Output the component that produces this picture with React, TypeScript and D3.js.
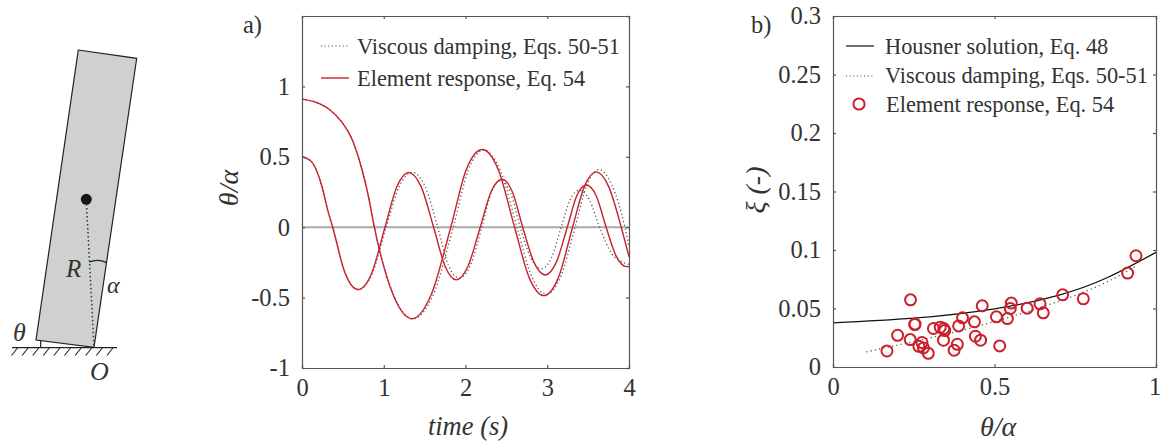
import React, { useEffect, useRef } from "react";
import * as d3 from "d3";

// panel a) readings: [time, theta/alpha], peaks, zero crossings and the points half way between
const upperElement = [[0,0.91],[0.155,0.89],[0.32,0.843],[0.485,0.748],[0.608,0.63],[0.73,0.417],[0.81,0.227],[0.885,0],[1.115,-0.48],[1.345,-0.65],[1.58,-0.48],[1.82,0],[2.01,0.41],[2.205,0.552],[2.4,0.41],[2.6,0],[2.78,-0.36],[2.96,-0.486],[3.135,-0.36],[3.31,0],[3.455,0.29],[3.6,0.393],[3.75,0.29],[3.905,0],[4,-0.21]];
const lowerElement = [[0,0.5],[0.118,0.464],[0.24,0.298],[0.32,0.109],[0.375,0],[0.53,-0.33],[0.685,-0.443],[0.85,-0.33],[1.015,0],[1.16,0.287],[1.305,0.389],[1.457,0.288],[1.61,0],[1.75,-0.277],[1.887,-0.374],[2.03,-0.277],[2.18,0],[2.313,0.252],[2.446,0.341],[2.573,0.252],[2.7,0],[2.838,-0.25],[2.976,-0.339],[3.11,-0.25],[3.245,0],[3.36,0.222],[3.48,0.3],[3.6,0.222],[3.72,0],[3.845,-0.207],[3.97,-0.28],[4,-0.28]];
const upperViscous = [[0,0.91],[0.155,0.89],[0.32,0.843],[0.485,0.748],[0.608,0.63],[0.73,0.417],[0.81,0.227],[0.885,0],[1.12,-0.48],[1.36,-0.65],[1.605,-0.48],[1.85,0],[2.035,0.405],[2.22,0.548],[2.425,0.405],[2.63,0],[2.81,-0.35],[2.99,-0.475],[3.165,-0.35],[3.34,0],[3.485,0.3],[3.63,0.41],[3.79,0.3],[3.95,0],[4,-0.14]];
const lowerViscous = [[0,0.5],[0.118,0.464],[0.24,0.298],[0.32,0.109],[0.375,0],[0.53,-0.33],[0.69,-0.443],[0.86,-0.33],[1.03,0],[1.19,0.29],[1.35,0.39],[1.505,0.29],[1.66,0],[1.79,-0.27],[1.92,-0.36],[2.06,-0.27],[2.2,0],[2.315,0.245],[2.43,0.33],[2.55,0.245],[2.67,0],[2.8,-0.22],[2.93,-0.294],[3.05,-0.22],[3.17,0],[3.28,0.195],[3.39,0.263],[3.515,0.195],[3.64,0],[3.785,-0.185],[3.93,-0.25],[4,-0.265]];

// panel b) readings: [theta/alpha, xi]
const housner = [[0,0.0377],[0.25,0.0417],[0.5,0.0497],[0.7,0.0615],[0.85,0.0765],[1,0.098]];
const viscous = [[0.103,0.0129],[0.27,0.023],[0.5,0.0389],[0.776,0.064],[0.936,0.086]];
const element = [[0.167,0.0137],[0.2,0.0271],[0.239,0.0234],[0.24,0.0574],[0.253,0.0363],[0.254,0.0366],[0.266,0.0177],[0.2755,0.0209],[0.28,0.0163],[0.295,0.0117],[0.311,0.0329],[0.332,0.034],[0.343,0.0329],[0.346,0.0311],[0.342,0.0229],[0.375,0.0143],[0.385,0.0194],[0.389,0.0351],[0.401,0.042],[0.438,0.0386],[0.441,0.0263],[0.457,0.0229],[0.462,0.0523],[0.506,0.0429],[0.516,0.018],[0.54,0.0414],[0.549,0.05],[0.552,0.0546],[0.601,0.0503],[0.641,0.054],[0.651,0.0463],[0.711,0.0617],[0.775,0.0583],[0.912,0.0803],[0.938,0.0951]];

const xTicksA = [0, 1, 2, 3, 4];
const yTicksA = [-1, -0.5, 0, 0.5, 1, 1.5];
const xTicksB = [0, 0.5, 1];
const yTicksB = [0, 0.05, 0.1, 0.15, 0.2, 0.25, 0.3];

const RED = "#c9202c";
const AXIS = "#555";
const INK = "#333";
const SERIF = "'Liberation Serif', serif";

function frame(svg, x, y, xTicks, yTicks, yFmt) {
  const [x0, x1] = x.range();
  const [y0, y1] = y.range();
  const sides = [
    d3.axisBottom(x).tickValues(xTicks).tickSize(-3).tickPadding(11).tickFormat((d) => `${d}`),
    d3.axisTop(x).tickValues(xTicks).tickSize(-3).tickFormat(() => ""),
    d3.axisLeft(y).tickValues(yTicks).tickSize(-3).tickPadding(12).tickFormat(yFmt),
    d3.axisRight(y).tickValues(yTicks).tickSize(-3).tickFormat(() => ""),
  ];
  const pos = [`translate(0,${y0})`, `translate(0,${y1})`, `translate(${x0},0)`, `translate(${x1},0)`];
  sides.forEach((a, i) => {
    const g = svg.append("g").attr("transform", pos[i]).call(a);
    g.selectAll("path,line").attr("stroke", AXIS).attr("stroke-width", 1.2);
    g.selectAll("text").attr("fill", INK).attr("font-family", SERIF).attr("font-size", 24.5);
    // the last label of panel b sits right at the page edge
    if (i === 0 && x1 > 1150) g.selectAll("text").filter((d) => d === 1).attr("dx", -1.5);
  });
}

function label(svg, x, y, s, opts: any = {}) {
  const t = svg.append("text")
    .attr("x", x).attr("y", y)
    .attr("fill", INK)
    .attr("font-family", SERIF)
    .attr("font-size", opts.size || 22.4)
    .attr("font-style", opts.italic ? "italic" : "normal")
    .attr("text-anchor", opts.anchor || "start")
    .text(s);
  if (opts.rotate) t.attr("transform", `rotate(${opts.rotate} ${x} ${y})`);
  return t;
}

function drawSketch(svg) {
  svg.append("polygon")
    .attr("points", "78.3,50 136.7,58.3 94,347.3 36,340")
    .attr("fill", "#cfd1ce").attr("stroke", "#222").attr("stroke-width", 1.2);
  svg.append("line").attr("x1", 86.5).attr("y1", 204).attr("x2", 94).attr("y2", 347)
    .attr("stroke", "#333").attr("stroke-width", 1.5).attr("stroke-dasharray", "1.5 2.5");
  svg.append("circle").attr("cx", 86.3).attr("cy", 199.3).attr("r", 5.5).attr("fill", "#15151a");
  svg.append("path").attr("d", "M89.3,262 Q98,258.5 106.7,262.7").attr("fill", "none").attr("stroke", "#222").attr("stroke-width", 1.3);
  svg.append("line").attr("x1", 12).attr("y1", 347.7).attr("x2", 117).attr("y2", 347.7).attr("stroke", "#222").attr("stroke-width", 1.2);
  svg.append("line").attr("x1", 40.7).attr("y1", 340.5).attr("x2", 40.7).attr("y2", 347.7).attr("stroke", "#222").attr("stroke-width", 1.2);
  d3.range(10).forEach((i) => {
    const hx = 11.5 + i * 10.6;
    svg.append("line").attr("x1", hx).attr("y1", 355.5).attr("x2", hx + 6).attr("y2", 348)
      .attr("stroke", "#222").attr("stroke-width", 1.1);
  });
  label(svg, 13, 341, "θ", { italic: true, size: 26 });
  label(svg, 66, 277, "R", { italic: true, size: 25 });
  label(svg, 107, 293, "α", { italic: true, size: 24 });
  label(svg, 90, 380, "O", { italic: true, size: 26 });
}

function drawA(svg) {
  const x = d3.scaleLinear().domain([0, 4]).range([302, 629]);
  const y = d3.scaleLinear().domain([-1, 1.5]).range([368, 16]);
  const line = d3.line().x((d) => x(d[0])).y((d) => y(d[1])).curve(d3.curveMonotoneX);

  svg.append("line").attr("x1", x(0)).attr("x2", x(4)).attr("y1", y(0)).attr("y2", y(0))
    .attr("stroke", "#aaa").attr("stroke-width", 2);

  [upperViscous, lowerViscous].forEach((d) => {
    svg.append("path").attr("d", line(d)).attr("fill", "none")
      .attr("stroke", "#555").attr("stroke-width", 1.3).attr("stroke-dasharray", "1.2 2.6");
  });
  [upperElement, lowerElement].forEach((d) => {
    svg.append("path").attr("d", line(d)).attr("fill", "none")
      .attr("stroke", RED).attr("stroke-width", 1.4);
  });

  frame(svg, x, y, xTicksA, yTicksA, (d) => (d === 1.5 ? "" : `${d}`));

  svg.append("line").attr("x1", 321).attr("x2", 348).attr("y1", 46).attr("y2", 46)
    .attr("stroke", "#555").attr("stroke-width", 1.2).attr("stroke-dasharray", "1.2 2.4");
  svg.append("line").attr("x1", 321).attr("x2", 349).attr("y1", 78).attr("y2", 78)
    .attr("stroke", RED).attr("stroke-width", 1.4);
  label(svg, 357, 54, "Viscous damping, Eqs. 50-51");
  label(svg, 357, 86, "Element response, Eq. 54");

  label(svg, 243, 33, "a)", { size: 24.5 });
  label(svg, 238, 188, "θ/α", { italic: true, size: 28, anchor: "middle", rotate: -90 });
  label(svg, 468, 435, "time (s)", { italic: true, size: 26.5, anchor: "middle" });
}

function drawB(svg) {
  const x = d3.scaleLinear().domain([0, 1]).range([833, 1156]);
  const y = d3.scaleLinear().domain([0, 0.3]).range([367, 16]);
  const line = d3.line().x((d) => x(d[0])).y((d) => y(d[1])).curve(d3.curveNatural);

  svg.append("path").attr("d", line(housner)).attr("fill", "none").attr("stroke", "#111").attr("stroke-width", 1.3);
  svg.append("path").attr("d", line(viscous)).attr("fill", "none")
    .attr("stroke", "#555").attr("stroke-width", 1.3).attr("stroke-dasharray", "1.2 3.2");
  svg.selectAll(".pt").data(element).enter().append("circle")
    .attr("class", "pt")
    .attr("cx", (d) => x(d[0])).attr("cy", (d) => y(d[1])).attr("r", 5.5)
    .attr("fill", "none").attr("stroke", RED).attr("stroke-width", 2);

  frame(svg, x, y, xTicksB, yTicksB, (d) => `${d}`);

  svg.append("line").attr("x1", 846).attr("x2", 874).attr("y1", 46).attr("y2", 46).attr("stroke", "#111").attr("stroke-width", 1.2);
  svg.append("line").attr("x1", 846).attr("x2", 874).attr("y1", 76).attr("y2", 76)
    .attr("stroke", "#555").attr("stroke-width", 1.2).attr("stroke-dasharray", "1.2 2.4");
  svg.append("circle").attr("cx", 859).attr("cy", 104).attr("r", 5.6).attr("fill", "none").attr("stroke", RED).attr("stroke-width", 2);
  label(svg, 885, 54, "Housner solution, Eq. 48");
  label(svg, 885, 83, "Viscous damping, Eqs. 50-51");
  label(svg, 886, 112, "Element response, Eq. 54");

  label(svg, 751, 33, "b)", { size: 24.5 });
  label(svg, 765, 190, "ξ (-)", { italic: true, size: 28, anchor: "middle", rotate: -90 });
  label(svg, 998, 436, "θ/α", { italic: true, size: 28, anchor: "middle" });
}

export default function App() {
  const ref = useRef(null);
  useEffect(() => {
    const svg = d3.select(ref.current);
    svg.selectAll("*").remove();
    drawSketch(svg);
    drawA(svg);
    drawB(svg);
  }, []);
  return <svg ref={ref} width={1161} height={441} style={{ position: "absolute", left: 0, top: 0, background: "#fff" }} />;
}
